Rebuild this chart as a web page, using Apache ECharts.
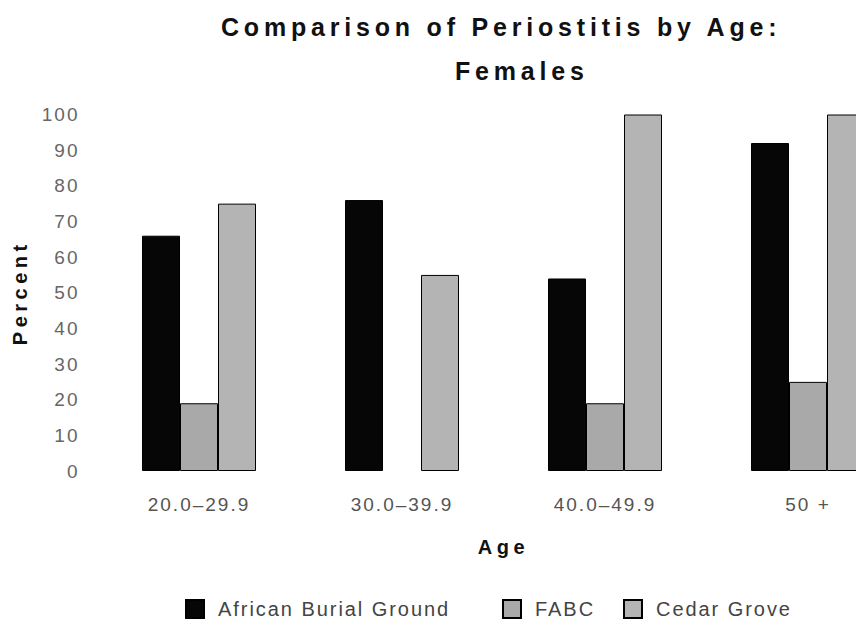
<!DOCTYPE html>
<html><head><meta charset="utf-8">
<script src="https://cdn.jsdelivr.net/npm/echarts@6/dist/echarts.min.js"></script>
<style>html,body{margin:0;padding:0;background:#fff}#main{width:856px;height:620px}</style>
</head><body><div id="main"></div>
<script>
const categories = ['20.0–29.9', '30.0–39.9', '40.0–49.9', '50 +'];
const seriesNames = ['African Burial Ground', 'FABC', 'Cedar Grove'];
const africanBurialGround = [66, 76, 54, 92];
const fabc = [19, null, 19, 25];
const cedarGrove = [75, 55, 100, 100];
const yMin = 0, yMax = 100, yInterval = 10;
const titleLine1 = 'Comparison of Periostitis by Age:';
const titleLine2 = 'Females';

const FONT = '"Liberation Sans", Arial, Helvetica, sans-serif';
const colors = ['#060606', '#a9a9a9', '#b4b4b4'];
const values = [africanBurialGround, fabc, cedarGrove];

const chart = echarts.init(document.getElementById('main'), null, {renderer: 'svg'});

const legendBase = {
  orient: 'horizontal', padding: 0, top: 599, itemWidth: 18, itemHeight: 18,
  icon: 'rect', selectedMode: false,
  textStyle: {fontFamily: FONT, fontSize: 20, color: '#444', padding: [0, 0, 0, 9]}
};

const option = {
  animation: false,
  backgroundColor: '#fff',
  title: [
    {text: titleLine1, left: 221, top: 14, padding: 0,
     textStyle: {fontFamily: FONT, fontSize: 25, fontWeight: 'bold', color: '#111'}},
    {text: titleLine2, left: 455, top: 58, padding: 0,
     textStyle: {fontFamily: FONT, fontSize: 25, fontWeight: 'bold', color: '#111'}}
  ],
  legend: [
    Object.assign({}, legendBase, {data: [seriesNames[0]], left: 185}),
    Object.assign({}, legendBase, {data: [seriesNames[1]], left: 502}),
    Object.assign({}, legendBase, {data: [seriesNames[2]], left: 623})
  ],
  grid: {left: 97.5, right: -53.5, top: 114.5, bottom: 149, containLabel: false, outerBoundsMode: 'none'},
  xAxis: {
    type: 'category', data: categories,
    axisLine: {show: false}, axisTick: {show: false}, splitLine: {show: false},
    axisLabel: {fontFamily: FONT, fontSize: 19, color: '#555', margin: 24, interval: 0},
    name: 'Age', nameLocation: 'middle', nameGap: 66,
    nameTextStyle: {fontFamily: FONT, fontSize: 20, fontWeight: 'bold', color: '#111'}
  },
  yAxis: {
    type: 'value', min: yMin, max: yMax, interval: yInterval,
    axisLine: {show: false}, axisTick: {show: false}, splitLine: {show: false},
    axisLabel: {fontFamily: FONT, fontSize: 19, color: '#666', margin: 18},
    name: 'Percent', nameLocation: 'middle', nameGap: 68, nameRotate: 90,
    nameTextStyle: {fontFamily: FONT, fontSize: 20, fontWeight: 'bold', color: '#111'}
  },
  series: seriesNames.map((n, i) => ({
    type: 'bar', name: n, data: values[i], barWidth: 38, barGap: '0%',
    itemStyle: {color: colors[i], borderColor: '#000', borderWidth: 1}
  }))
};

function applySpacing() {
  document.querySelectorAll('#main text').forEach(t => {
    const cs = getComputedStyle(t);
    const fs = parseFloat(cs.fontSize);
    const w = cs.fontWeight;
    const bold = w === 'bold' || parseInt(w, 10) >= 600;
    let ls;
    if (bold && fs >= 24) ls = 4.8;
    else if (bold) ls = 4.5;
    else if (fs >= 19.5) ls = 1.95;
    else ls = 2;
    t.style.letterSpacing = ls + 'px';
  });
}
chart.on('finished', applySpacing);
chart.setOption(option);
applySpacing();
</script></body></html>
